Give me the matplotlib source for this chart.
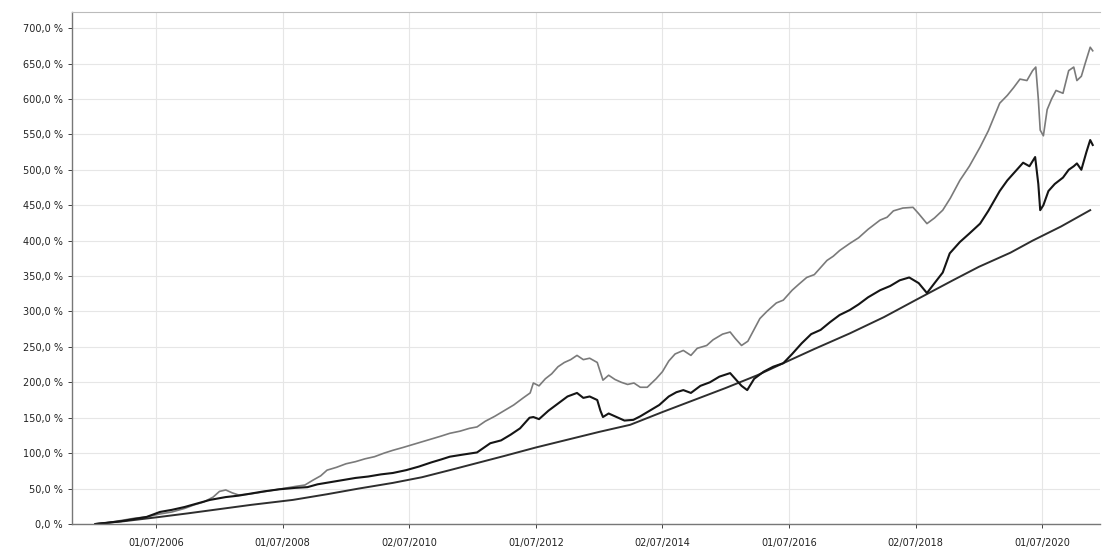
import matplotlib
matplotlib.use("Agg")
import matplotlib.pyplot as plt
import numpy as np

# ----------------------------------------------------------------------------------------------------------------------
# Data (dates as decimal years, values in %)

upper_t = [2005.54, 2005.75, 2005.95, 2006.15, 2006.35, 2006.55, 2006.75, 2006.95, 2007.10, 2007.25,
           2007.40, 2007.50, 2007.60, 2007.70, 2007.80, 2007.95, 2008.10, 2008.30, 2008.50, 2008.70,
           2008.85, 2008.98, 2009.10, 2009.20, 2009.35, 2009.50, 2009.65, 2009.80, 2009.95, 2010.10,
           2010.24, 2010.40, 2010.55, 2010.70, 2010.85, 2011.00, 2011.14, 2011.30, 2011.45, 2011.57,
           2011.70, 2011.85, 2012.00, 2012.15, 2012.30, 2012.41, 2012.46, 2012.55, 2012.65, 2012.75,
           2012.85, 2012.95, 2013.05, 2013.15, 2013.25, 2013.35, 2013.47, 2013.52, 2013.56, 2013.65,
           2013.75, 2013.85, 2013.95, 2014.05, 2014.15, 2014.26, 2014.40, 2014.50, 2014.60, 2014.70,
           2014.83, 2014.95, 2015.05, 2015.20, 2015.30, 2015.45, 2015.57, 2015.65, 2015.75, 2015.85,
           2015.95, 2016.04, 2016.15, 2016.30, 2016.41, 2016.55, 2016.65, 2016.78, 2016.90, 2017.00,
           2017.10, 2017.20, 2017.30, 2017.46, 2017.60, 2017.75, 2017.94, 2018.05, 2018.15, 2018.30,
           2018.46, 2018.55, 2018.68, 2018.80, 2018.93, 2019.05, 2019.20, 2019.35, 2019.52, 2019.65,
           2019.83, 2019.95, 2020.05, 2020.15, 2020.26, 2020.35, 2020.40, 2020.44, 2020.47, 2020.52,
           2020.58, 2020.65, 2020.72, 2020.83, 2020.92, 2021.00, 2021.05, 2021.12, 2021.18, 2021.26,
           2021.30]
upper_v = [0, 2, 5, 8, 10, 14, 17, 22, 27, 31,
           38, 46, 48, 44, 41, 42, 44, 47, 50, 53,
           55, 62, 68, 76, 80, 85, 88, 92, 95, 100,
           104, 108, 112, 116, 120, 124, 128, 131, 135, 137,
           145, 152, 160, 168, 178, 185, 199, 195, 205, 212,
           222, 228, 232, 238, 232, 234, 228, 214, 203, 210,
           204, 200, 197, 199, 193, 193, 205, 215, 230, 240,
           245, 238, 248, 252, 260, 268, 271, 262, 252, 258,
           275, 290, 300, 312, 316, 330, 338, 348, 352, 362,
           372, 378, 386, 396, 404, 416, 429, 433, 442, 446,
           447, 438, 424, 432, 443, 460, 485, 505, 532, 555,
           594, 605, 616, 628, 626, 640, 645, 600, 556, 548,
           585, 600, 612, 608, 640, 645, 626, 632, 650, 673,
           668]

middle_t = [2005.54, 2005.75, 2005.95, 2006.15, 2006.35, 2006.56, 2006.75, 2006.95, 2007.15, 2007.35,
            2007.60, 2007.80, 2008.00, 2008.20, 2008.45, 2008.70, 2008.89, 2009.05, 2009.25, 2009.45,
            2009.65, 2009.85, 2010.05, 2010.24, 2010.45, 2010.65, 2010.85, 2011.00, 2011.14, 2011.35,
            2011.57, 2011.78, 2011.95, 2012.10, 2012.25, 2012.40, 2012.46, 2012.55, 2012.70, 2012.85,
            2013.00, 2013.15, 2013.25, 2013.35, 2013.47, 2013.52, 2013.56, 2013.65, 2013.75, 2013.90,
            2014.04, 2014.15, 2014.30, 2014.45, 2014.60, 2014.72, 2014.83, 2014.95, 2015.10, 2015.25,
            2015.40, 2015.57, 2015.65, 2015.75, 2015.84, 2015.95, 2016.10, 2016.25, 2016.41, 2016.55,
            2016.70, 2016.85, 2017.00, 2017.15, 2017.30, 2017.46, 2017.60, 2017.75, 2017.94, 2018.10,
            2018.25, 2018.40, 2018.55, 2018.68, 2018.80, 2018.93, 2019.04, 2019.20, 2019.35, 2019.52,
            2019.65, 2019.83, 2019.95, 2020.10, 2020.20, 2020.30, 2020.39, 2020.44, 2020.47, 2020.52,
            2020.60, 2020.70, 2020.83, 2020.92, 2021.00, 2021.05, 2021.12, 2021.20, 2021.26, 2021.30]
middle_v = [0, 2, 4, 7, 10, 17, 20, 24, 29, 34,
            38, 40, 43, 46, 49, 51, 52, 56, 59, 62,
            65, 67, 70, 72, 76, 81, 87, 91, 95, 98,
            101, 114, 118, 126, 135, 150, 151, 148, 160, 170,
            180, 185, 178, 180, 175, 160, 151, 156, 152, 146,
            147, 152, 160, 168, 180, 186, 189, 185, 195, 200,
            208, 213, 205, 195, 189, 205, 215, 222, 227, 240,
            255, 268, 274, 285, 295, 302, 310, 320, 330, 336,
            344, 348, 340, 326, 340, 355, 382, 398, 410, 424,
            442, 470, 485, 500, 510, 505, 518, 480, 443, 450,
            470, 480, 489, 500, 505, 509, 500, 525, 542, 535]

lower_t = [2005.54, 2006.00, 2006.56, 2007.00, 2007.50, 2008.00, 2008.66, 2009.20, 2009.70, 2010.24,
           2010.70, 2011.14, 2011.57, 2012.00, 2012.50, 2013.00, 2013.50, 2013.99, 2014.50, 2015.00,
           2015.50, 2016.00, 2016.41, 2016.90, 2017.46, 2018.00, 2018.50, 2019.09, 2019.50, 2020.00,
           2020.35, 2020.80, 2021.26]
lower_v = [0, 4, 10, 15, 21, 27, 34, 42, 50, 58,
           66, 76, 86, 96, 108, 119, 130, 140, 158, 175,
           192, 210, 227, 247, 269, 292, 316, 344, 363, 383,
           400, 420, 443]

tick_pos = [2006.5, 2008.5, 2010.5, 2012.5, 2014.5, 2016.5, 2018.5, 2020.5]
tick_labels = ["01/07/2006", "01/07/2008", "02/07/2010", "01/07/2012",
               "02/07/2014", "01/07/2016", "02/07/2018", "01/07/2020"]
y_ticks = list(range(0, 701, 50))


# ----------------------------------------------------------------------------------------------------------------------
def plot_data():

    fig = plt.figure(figsize=(11.03, 5.5), dpi=100)
    ax = fig.add_axes([0.0653, 0.0473, 0.9317, 0.9307])

    # Grid
    ax.set_axisbelow(True)
    ax.grid(True, color="#e6e6e6", linewidth=0.8)

    # Series
    ax.plot(upper_t, upper_v, color="#7a7a7a", linewidth=1.2)
    ax.plot(lower_t, lower_v, color="#2e2e2e", linewidth=1.4)
    ax.plot(middle_t, middle_v, color="#151515", linewidth=1.5)

    # Axes
    ax.set_xlim(2005.17, 2021.41)
    ax.set_ylim(0, 722.6)
    ax.set_xticks(tick_pos)
    ax.set_xticklabels(tick_labels)
    ax.set_yticks(y_ticks)
    ax.set_yticklabels(["{:.1f} %".format(v).replace(".", ",") for v in y_ticks])
    ax.tick_params(axis="both", labelsize=7, colors="#222222", length=3, width=0.6)
    ax.tick_params(axis="x", pad=7)

    for side in ["left", "bottom"]:
        ax.spines[side].set_color("#777777")
        ax.spines[side].set_linewidth(1.0)
    ax.spines["top"].set_color("#bbbbbb")
    ax.spines["right"].set_visible(False)

    fig.savefig("out.png", dpi=100)


if __name__ == "__main__":
    plot_data()
